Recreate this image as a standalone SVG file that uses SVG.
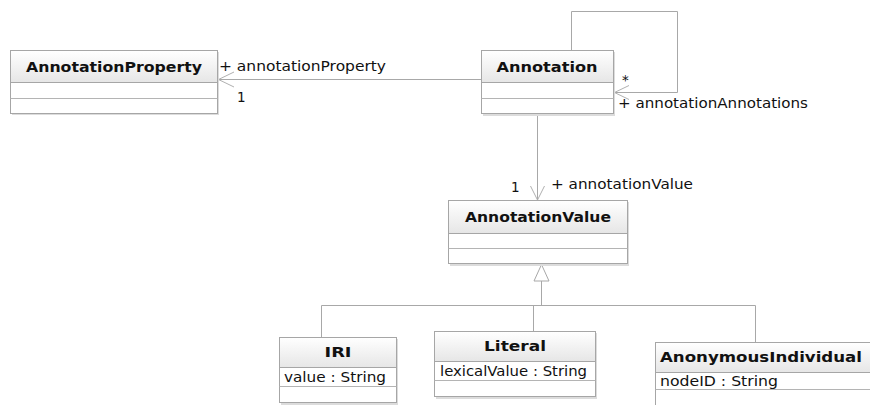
<svg xmlns="http://www.w3.org/2000/svg" width="870" height="405" viewBox="0 0 870 405">
  <defs>
    <linearGradient id="hdr" x1="0" y1="0" x2="0" y2="1">
      <stop offset="0" stop-color="#ffffff"/>
      <stop offset="1" stop-color="#e6e6e6"/>
    </linearGradient>
    <style>
      .shadow { fill: #dcdcdc; }
      .box { fill: #ffffff; stroke: #a6a6a6; stroke-width: 1; }
      .head { fill: url(#hdr); stroke: #a6a6a6; stroke-width: 1; }
      .sep { stroke: #b4b4b4; stroke-width: 1; }
      .name { font-family: "DejaVu Sans", Verdana, sans-serif; font-weight: bold; font-size: 14px; fill: #111111; text-anchor: middle; }
      .attr { font-family: "DejaVu Sans", Verdana, sans-serif; font-size: 13.5px; fill: #111111; }
      .lbl { font-family: "DejaVu Sans", Verdana, sans-serif; font-size: 13.5px; fill: #111111; }
      .edge { fill: none; stroke: #a8a8a8; stroke-width: 1; }
      .head-open { fill: none; stroke: #b0b0b0; stroke-width: 1; }
      .gen { fill: #ffffff; stroke: #a8a8a8; stroke-width: 1; }
    </style>
  </defs>
  <rect width="870" height="405" fill="#ffffff"/>

  <!-- connectors -->
  <g id="connectors">
    <!-- Annotation -> AnnotationProperty -->
    <line class="edge" x1="481" y1="79.5" x2="218" y2="79.5"/>
    <polyline class="head-open" points="234,72 218.5,79.5 234,87"/>
    <!-- Annotation self association -->
    <polyline class="edge" points="571.5,50 571.5,11.5 677.5,11.5 677.5,92.5 614,92.5"/>
    <polyline class="head-open" points="629,85.5 614.5,92.5 629,99.5"/>
    <!-- Annotation -> AnnotationValue -->
    <line class="edge" x1="537.5" y1="114" x2="537.5" y2="200"/>
    <polyline class="head-open" points="530.5,186 537.5,200 544.5,186"/>
    <!-- generalization to AnnotationValue -->
    <polyline class="edge" points="321.5,337 321.5,305.5 755.5,305.5 755.5,342"/>
    <line class="edge" x1="533.5" y1="305.5" x2="533.5" y2="331"/>
    <line class="edge" x1="541.5" y1="281" x2="541.5" y2="305.5"/>
    <polygon class="gen" points="541.5,264.5 534,281 549,281"/>

    <text class="lbl" x="219" y="71" textLength="167" lengthAdjust="spacingAndGlyphs">+ annotationProperty</text>
    <text class="lbl" x="237" y="102">1</text>
    <text class="lbl" x="622" y="85">*</text>
    <text class="lbl" x="618" y="108" textLength="190" lengthAdjust="spacingAndGlyphs">+ annotationAnnotations</text>
    <text class="lbl" x="551" y="189" textLength="142" lengthAdjust="spacingAndGlyphs">+ annotationValue</text>
    <text class="lbl" x="511" y="192">1</text>
  </g>

  <!-- AnnotationProperty -->
  <g id="AnnotationProperty">
    <rect class="shadow" x="12" y="52" width="207" height="63"/>
    <rect class="box" x="10.5" y="50.5" width="207" height="63"/>
    <rect class="head" x="10.5" y="50.5" width="207" height="32"/>
    <line class="sep" x1="10.5" y1="98.5" x2="217.5" y2="98.5"/>
    <text class="name" x="114" y="72" textLength="176" lengthAdjust="spacingAndGlyphs">AnnotationProperty</text>
  </g>

  <!-- Annotation -->
  <g id="Annotation">
    <rect class="shadow" x="483" y="52" width="132" height="64"/>
    <rect class="box" x="481.5" y="50.5" width="132" height="63"/>
    <rect class="head" x="481.5" y="50.5" width="132" height="32"/>
    <line class="sep" x1="481.5" y1="98.5" x2="613.5" y2="98.5"/>
    <text class="name" x="547" y="72" textLength="101" lengthAdjust="spacingAndGlyphs">Annotation</text>
  </g>

  <!-- AnnotationValue -->
  <g id="AnnotationValue">
    <rect class="shadow" x="450" y="202" width="179" height="64"/>
    <rect class="box" x="448.5" y="200.5" width="179" height="63"/>
    <rect class="head" x="448.5" y="200.5" width="179" height="33"/>
    <line class="sep" x1="448.5" y1="248.5" x2="627.5" y2="248.5"/>
    <text class="name" x="538" y="222" textLength="146" lengthAdjust="spacingAndGlyphs">AnnotationValue</text>
  </g>

  <!-- IRI -->
  <g id="IRI">
    <rect class="shadow" x="281" y="339" width="117" height="66"/>
    <rect class="box" x="279.5" y="337.5" width="117" height="65"/>
    <rect class="head" x="279.5" y="337.5" width="117" height="30"/>
    <line class="sep" x1="279.5" y1="386.5" x2="396.5" y2="386.5"/>
    <text class="name" x="338" y="357" textLength="27" lengthAdjust="spacingAndGlyphs">IRI</text>
    <text class="attr" x="284" y="382" textLength="102" lengthAdjust="spacingAndGlyphs">value : String</text>
  </g>

  <!-- Literal -->
  <g id="Literal">
    <rect class="shadow" x="436" y="333" width="161" height="66"/>
    <rect class="box" x="434.5" y="331.5" width="161" height="65"/>
    <rect class="head" x="434.5" y="331.5" width="161" height="30"/>
    <line class="sep" x1="434.5" y1="380.5" x2="595.5" y2="380.5"/>
    <text class="name" x="515" y="351" textLength="62" lengthAdjust="spacingAndGlyphs">Literal</text>
    <text class="attr" x="440" y="376" textLength="147" lengthAdjust="spacingAndGlyphs">lexicalValue : String</text>
  </g>

  <!-- AnonymousIndividual -->
  <g id="AnonymousIndividual">
    <rect class="box" x="655.5" y="342.5" width="220" height="65"/>
    <rect class="head" x="655.5" y="342.5" width="220" height="30"/>
    <line class="sep" x1="655.5" y1="389.5" x2="875" y2="389.5"/>
    <text class="name" x="761" y="362" textLength="202" lengthAdjust="spacingAndGlyphs">AnonymousIndividual</text>
    <text class="attr" x="660" y="386" textLength="118" lengthAdjust="spacingAndGlyphs">nodeID : String</text>
  </g>
</svg>
